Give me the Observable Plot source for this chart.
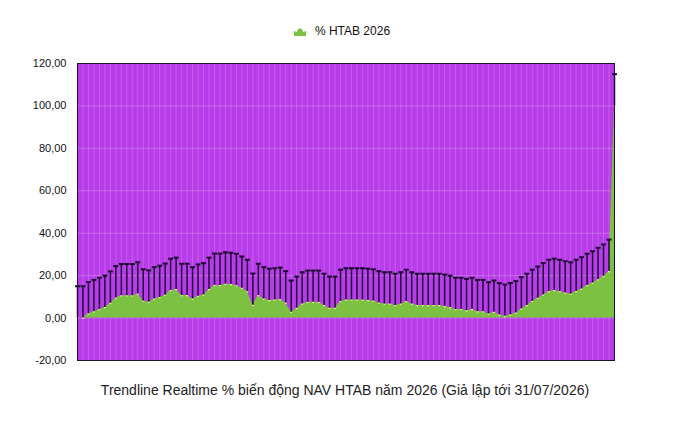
<!DOCTYPE html>
<html><head><meta charset="utf-8">
<script src="https://cdn.jsdelivr.net/npm/d3@7"></script>
<script src="https://cdn.jsdelivr.net/npm/@observablehq/plot@0.6"></script>
<style>
body{margin:0;background:#fff;font-family:"Liberation Sans",Arial,Helvetica,sans-serif;width:690px;}
#legend{height:45px;box-sizing:border-box;padding-top:17px;display:flex;justify-content:center;align-items:flex-start;font-size:12px;color:#111;}
#legend .item{display:flex;align-items:center;height:28px;gap:9px;margin-left:-6px}
#caption{text-align:center;font-size:14px;color:#222;line-height:30px;height:30px;}
</style></head><body>
<div id="legend"><div class="item"><svg width="12" height="10" viewBox="0 0 12 10"><path d="M0,10 L0,5 L3,6 C4,1 8,1 9,6 L12,5 L12,10 Z" fill="#7dc142"/></svg><span>% HTAB 2026</span></div></div>
<div id="chart"></div>
<div id="caption">Trendline Realtime % biến động NAV HTAB năm 2026 (Giả lập tới 31/07/2026)</div>
<script>
const seriesName = "% HTAB 2026";
const values = [0,0,2,3,4,5,7,9.5,10.5,10.5,10.5,11.3,8,7.5,9,9.7,10.7,13,13.5,10.6,
10.6,9,10.3,10.9,13.5,15.4,15.4,16,15.8,15.3,14,12.5,6,10.6,9,8.3,8.5,8.8,7.1,2.7,
4.6,6.6,7.4,7.4,7.4,5.9,4.6,4.6,7.8,8.5,8.5,8.5,8.5,8.3,8,7.1,6.6,6.6,5.9,6.6,
7.8,6.6,5.9,5.9,5.9,5.9,5.9,5.5,5,4,4,3.5,4,3,3,1.9,2.7,1.5,0.8,1.5,
2.4,4.3,5.9,7.8,9.3,10.9,12.5,13,12.5,11.8,11.3,12.5,13.7,15.3,16.5,18.1,19.7,22,100];
const errorPlus = 15;
const yTicks = [-20,0,20,40,60,80,100,120];

const data = values.map((v,i)=>({i, v, top: v + errorPlus}));
const fmt = d => d3.format(".2f")(d).replace(".", ",").replace("−","-");

const chart = Plot.plot({
  width: 690, height: 330,
  marginLeft: 77, marginRight: 76, marginTop: 18, marginBottom: 15,
  style: {fontFamily: '"Liberation Sans",Arial,Helvetica,sans-serif', fontSize: "11px", color:"#111", overflow:"visible"},
  x: {domain: [0, values.length-1], axis: null},
  y: {domain: [-20,120], ticks: yTicks, tickFormat: fmt, tickSize: 0, tickPadding: 11, label: null},
  marks: [
    Plot.frame({fill: "#b83ce9"}),
    Plot.ruleX(data, {x: "i", stroke: "#ffffff", strokeOpacity: 0.18}),
    Plot.ruleY(yTicks, {stroke: "#ffffff", strokeOpacity: 0.22}),
    Plot.areaY(data, {x: "i", y: "v", fill: "#7cc142"}),
    Plot.dot(data, {x: "i", y: "v", r: 1, fill: "#f1eea0", stroke: "none"}),
    Plot.ruleX(data, {x: "i", y1: "v", y2: "top", stroke: "#1c0832", strokeWidth: 1.5}),
    Plot.link(data, {x1: d => d.i - 0.45, x2: d => d.i + 0.45, y1: "top", y2: "top", stroke: "#1c0832", strokeWidth: 2}),
    Plot.frame({stroke: "#1a1030", strokeWidth: 1})
  ]
});
document.getElementById("chart").appendChild(chart);
</script>
</body></html>
